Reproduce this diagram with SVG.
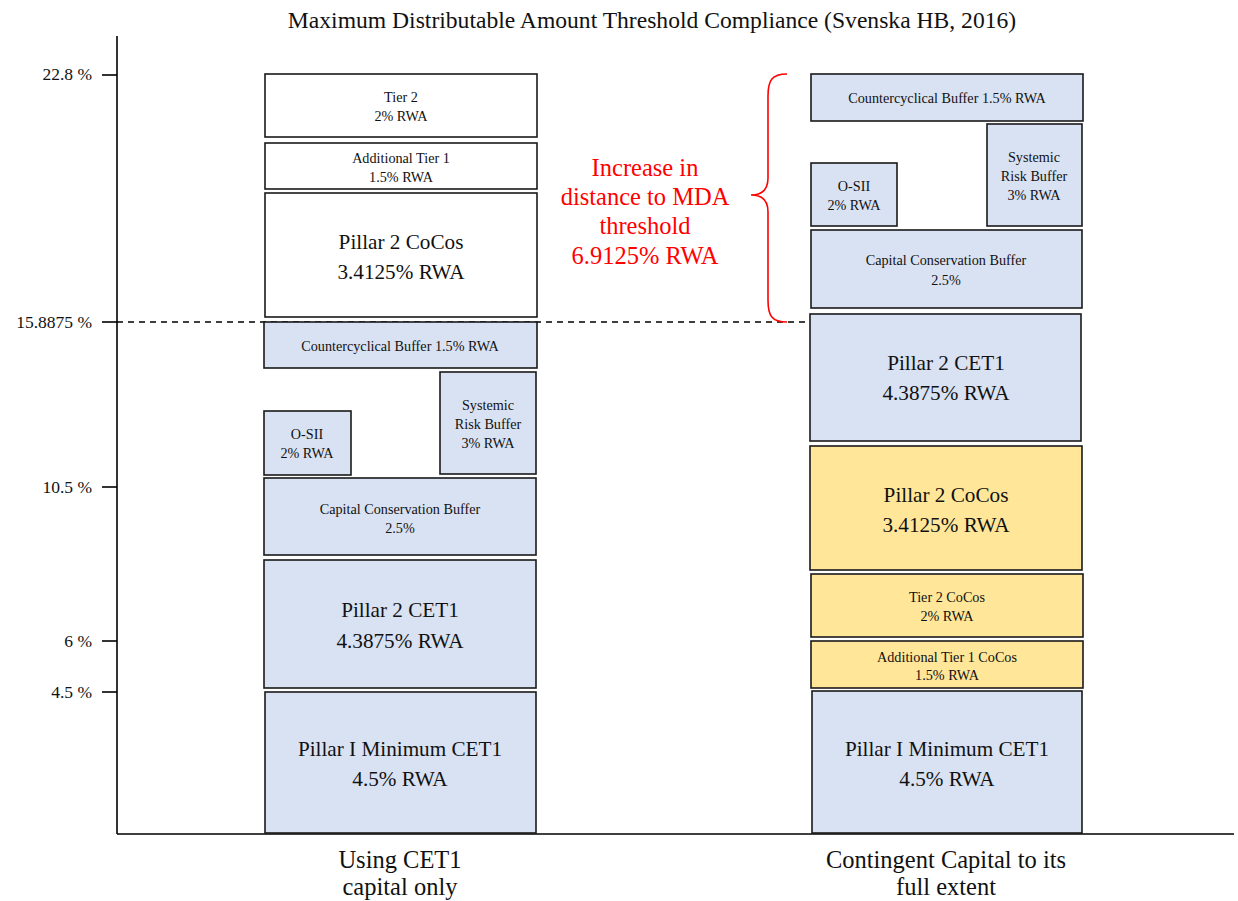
<svg xmlns="http://www.w3.org/2000/svg" width="1238" height="901" viewBox="0 0 1238 901" font-family="Liberation Serif, Times New Roman, DejaVu Serif, serif">
<style>
text{font-family:'Liberation Serif','Times New Roman','DejaVu Serif',serif;fill:#111;text-anchor:middle}
.box{stroke:#1a1a1a;stroke-width:1.6}
.w{fill:#ffffff}
.b{fill:#d9e2f3}
.y{fill:#ffe699}
.s{font-size:14.2px}
.L{font-size:21.2px}
.ax{font-size:17.5px;text-anchor:end}
.cap{font-size:24.5px}
.red{fill:#ff0000;font-size:24.5px}
.line{stroke:#000;stroke-width:1.6;fill:none}
</style>
<text x="652" y="28" style="font-size:23.6px">Maximum Distributable Amount Threshold Compliance (Svenska HB, 2016)</text>

<g id="axes">
<line class="line" x1="117" y1="36" x2="117" y2="834"/>
<line class="line" x1="117" y1="834" x2="1234" y2="834"/>
<line class="line" x1="102" y1="75" x2="117" y2="75"/>
<line class="line" x1="102" y1="322" x2="117" y2="322"/>
<line class="line" x1="102" y1="487" x2="117" y2="487"/>
<line class="line" x1="102" y1="641" x2="117" y2="641"/>
<line class="line" x1="102" y1="692" x2="117" y2="692"/>
<text class="ax" x="92" y="80">22.8 %</text>
<text class="ax" x="92" y="328">15.8875 %</text>
<text class="ax" x="92" y="493">10.5 %</text>
<text class="ax" x="92" y="647">6 %</text>
<text class="ax" x="92" y="698">4.5 %</text>
</g>

<g id="connectors">
<line x1="117" y1="322" x2="810" y2="322" stroke="#000" stroke-width="1.4" stroke-dasharray="6,5"/>
<path d="M787,74 C772,74 768,80 768,96 L768,178 C768,190 761,195 751,195 C761,195 768,200 768,212 L768,300 C768,316 772,322 787,322" fill="none" stroke="#ff0000" stroke-width="1.6"/>
</g>

<g id="mda-label">
<text class="red" x="645" y="176">Increase in</text>
<text class="red" x="645" y="205">distance to MDA</text>
<text class="red" x="645" y="234">threshold</text>
<text class="red" x="645" y="264">6.9125% RWA</text>
</g>

<g id="left-tier2"><rect class="box w" x="265" y="74" width="272" height="63"/>
<text class="s" x="401" y="102">Tier 2</text><text class="s" x="401" y="121">2% RWA</text></g>
<g id="left-at1"><rect class="box w" x="265" y="143" width="272" height="46"/>
<text class="s" x="401" y="163">Additional Tier 1</text><text class="s" x="401" y="182">1.5% RWA</text></g>
<g id="left-p2cocos"><rect class="box w" x="265" y="193" width="272" height="124"/>
<text class="L" x="401" y="249">Pillar 2 CoCos</text><text class="L" x="401" y="279">3.4125% RWA</text></g>
<g id="left-ccyb"><rect class="box b" x="264" y="322" width="273" height="46"/>
<text class="s" x="400" y="351">Countercyclical Buffer 1.5% RWA</text></g>
<g id="left-osii"><rect class="box b" x="264" y="411" width="87" height="64"/>
<text class="s" x="307" y="439">O-SII</text><text class="s" x="307" y="458">2% RWA</text></g>
<g id="left-srb"><rect class="box b" x="440" y="372" width="96" height="102"/>
<text class="s" x="488" y="410">Systemic</text><text class="s" x="488" y="429">Risk Buffer</text><text class="s" x="488" y="448">3% RWA</text></g>
<g id="left-ccb"><rect class="box b" x="264" y="478" width="272" height="77"/>
<text class="s" x="400" y="514">Capital Conservation Buffer</text><text class="s" x="400" y="533">2.5%</text></g>
<g id="left-p2cet1"><rect class="box b" x="264" y="560" width="272" height="128"/>
<text class="L" x="400" y="617">Pillar 2 CET1</text><text class="L" x="400" y="648">4.3875% RWA</text></g>
<g id="left-p1"><rect class="box b" x="265" y="692" width="271" height="141"/>
<text class="L" x="400" y="756">Pillar I Minimum CET1</text><text class="L" x="400" y="786">4.5% RWA</text></g>

<g id="right-ccyb"><rect class="box b" x="811" y="74" width="272" height="47"/>
<text class="s" x="947" y="103">Countercyclical Buffer 1.5% RWA</text></g>
<g id="right-srb"><rect class="box b" x="987" y="124" width="95" height="102"/>
<text class="s" x="1034" y="162">Systemic</text><text class="s" x="1034" y="181">Risk Buffer</text><text class="s" x="1034" y="200">3% RWA</text></g>
<g id="right-osii"><rect class="box b" x="811" y="163" width="86" height="63"/>
<text class="s" x="854" y="191">O-SII</text><text class="s" x="854" y="210">2% RWA</text></g>
<g id="right-ccb"><rect class="box b" x="811" y="230" width="271" height="78"/>
<text class="s" x="946" y="265">Capital Conservation Buffer</text><text class="s" x="946" y="285">2.5%</text></g>
<g id="right-p2cet1"><rect class="box b" x="810" y="314" width="271" height="127"/>
<text class="L" x="946" y="370">Pillar 2 CET1</text><text class="L" x="946" y="400">4.3875% RWA</text></g>
<g id="right-p2cocos"><rect class="box y" x="810" y="446" width="272" height="124"/>
<text class="L" x="946" y="502">Pillar 2 CoCos</text><text class="L" x="946" y="532">3.4125% RWA</text></g>
<g id="right-t2cocos"><rect class="box y" x="811" y="574" width="272" height="63"/>
<text class="s" x="947" y="602">Tier 2 CoCos</text><text class="s" x="947" y="621">2% RWA</text></g>
<g id="right-at1cocos"><rect class="box y" x="811" y="641" width="272" height="47"/>
<text class="s" x="947" y="662">Additional Tier 1 CoCos</text><text class="s" x="947" y="680">1.5% RWA</text></g>
<g id="right-p1"><rect class="box b" x="812" y="691" width="270" height="142"/>
<text class="L" x="947" y="756">Pillar I Minimum CET1</text><text class="L" x="947" y="786">4.5% RWA</text></g>

<g id="captions">
<text class="cap" x="400" y="868">Using CET1</text>
<text class="cap" x="400" y="895">capital only</text>
<text class="cap" x="946" y="868">Contingent Capital to its</text>
<text class="cap" x="946" y="895">full extent</text>
</g>
</svg>
